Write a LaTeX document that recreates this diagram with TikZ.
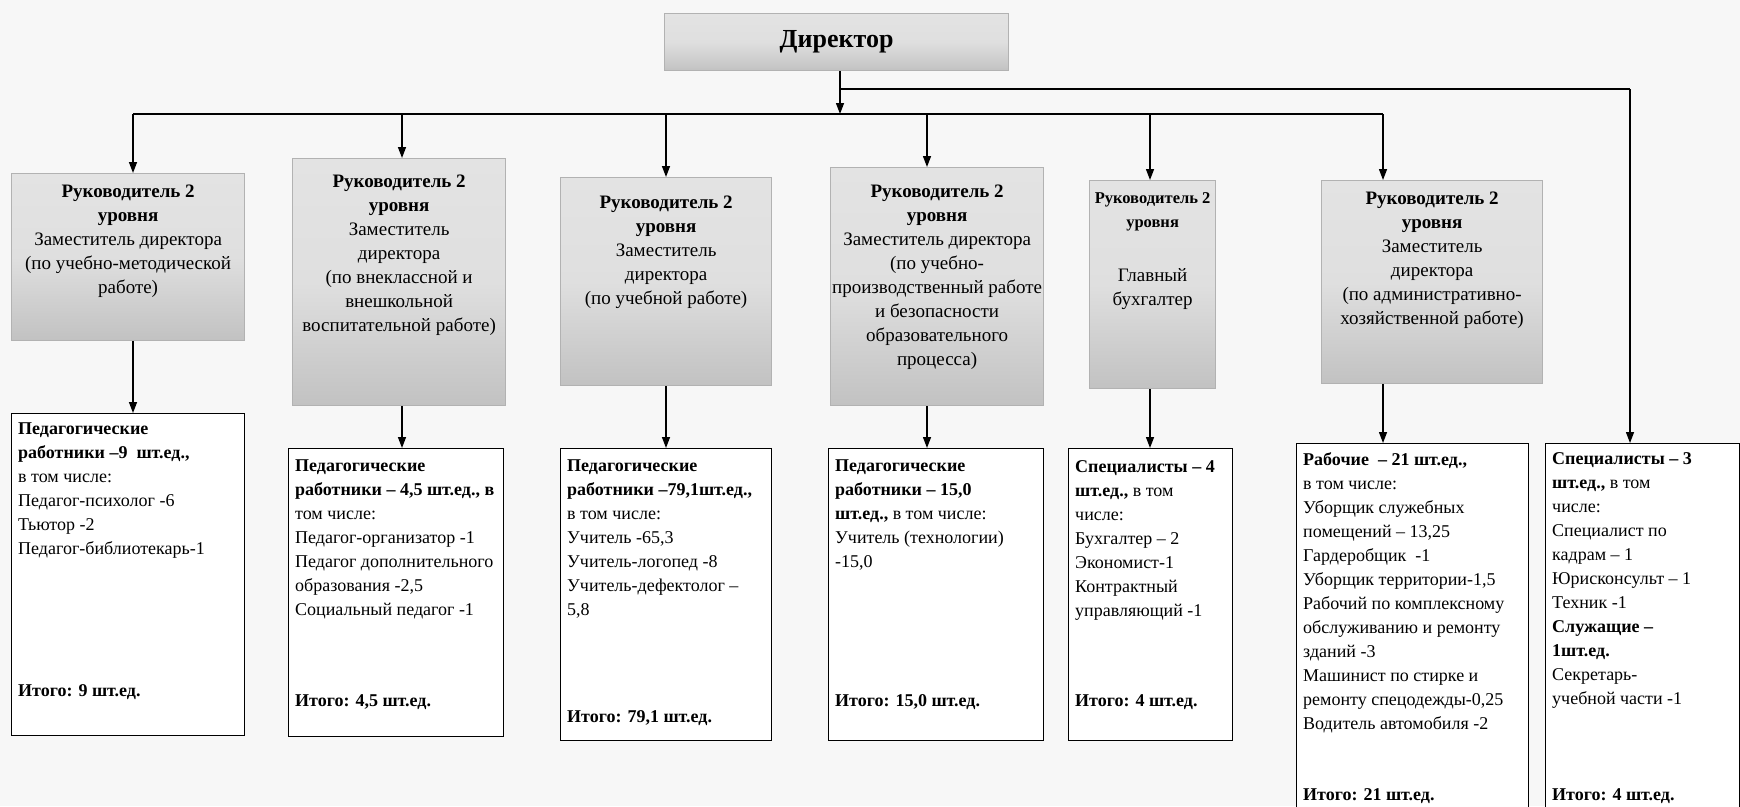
\documentclass[tikz,border=0pt]{standalone}
\usepackage{fontspec}
\setmainfont{Liberation Serif}
\usetikzlibrary{arrows.meta}
\tikzset{
  topbox/.style={draw=gray!60, line width=1.2pt, top color=gray!22, bottom color=gray!48, middle color=gray!25, anchor=north west, inner sep=0pt},
  botbox/.style={draw=black, line width=1.4pt, fill=white, anchor=north west, inner sep=0pt},
  toptext/.style={anchor=north, align=center, inner sep=0pt, font=\fontsize{19}{24}\selectfont},
  bottext/.style={anchor=north west, align=left, inner sep=0pt, font=\fontsize{18}{24}\selectfont},
  sumtext/.style={anchor=west, inner sep=0pt, font=\fontsize{18}{24}\selectfont\bfseries},
  conn/.style={line width=1.4pt, draw=black},
  arr/.style={conn, -{Triangle[length=11pt,width=8pt]}},
}
\begin{document}
\begin{tikzpicture}[x=1pt,y=-1pt]
\useasboundingbox (0,0) rectangle (1740,806);
\fill[gray!6] (0,0) rectangle (1740,806);
% director
\node[topbox, minimum width=344pt, minimum height=57pt] (dir) at (664,13) {};
\node[inner sep=0pt, font=\fontsize{26}{30}\selectfont\bfseries] (dirt) at (dir.center) {Директор};
% top boxes
\node[topbox, minimum width=233pt, minimum height=167pt] (t1) at (11,173) {};
\node[topbox, minimum width=213pt, minimum height=247pt] (t2) at (292,158) {};
\node[topbox, minimum width=211pt, minimum height=208pt] (t3) at (560,177) {};
\node[topbox, minimum width=213pt, minimum height=238pt] (t4) at (830,167) {};
\node[topbox, minimum width=126pt, minimum height=208pt] (t5) at (1089,180) {};
\node[topbox, minimum width=221pt, minimum height=203pt] (t6) at (1321,180) {};
\node[toptext] (t1t) at ([yshift=-12pt]t1.north) {\textbf{Руководитель 2}\\\textbf{уровня}\\Заместитель директора\\(по учебно-методической\\работе)};
\node[toptext] (t2t) at (t2.north |- 0,175) {\textbf{Руководитель 2}\\\textbf{уровня}\\Заместитель\\директора\\(по внеклассной и\\внешкольной\\воспитательной работе)};
\node[toptext] (t3t) at ([yshift=-19pt]t3.north) {\textbf{Руководитель 2}\\\textbf{уровня}\\Заместитель\\директора\\(по учебной работе)};
\node[toptext] (t4t) at (t4.north |- 0,185) {\textbf{Руководитель 2}\\\textbf{уровня}\\Заместитель директора\\(по учебно-\\производственный работе\\и безопасности\\образовательного\\процесса)};
\node[toptext] (t5t) at ([yshift=-12pt]t5.north) {{\fontsize{16.5}{24}\selectfont\bfseries Руководитель 2}\\{\fontsize{16.5}{24}\selectfont\bfseries уровня}\\[30pt]Главный\\бухгалтер};
\node[toptext] (t6t) at ([yshift=-12pt]t6.north) {\textbf{Руководитель 2}\\\textbf{уровня}\\Заместитель\\директора\\(по административно-\\хозяйственной работе)};
% bottom boxes
\node[botbox, minimum width=233pt, minimum height=322pt] (b1) at (11,413) {};
\node[botbox, minimum width=215pt, minimum height=288pt] (b2) at (288,448) {};
\node[botbox, minimum width=211pt, minimum height=292pt] (b3) at (560,448) {};
\node[botbox, minimum width=215pt, minimum height=292pt] (b4) at (828,448) {};
\node[botbox, minimum width=164pt, minimum height=292pt] (b5) at (1068,448) {};
\node[botbox, minimum width=232pt, minimum height=380pt] (b6) at (1296,443) {};
\node[botbox, minimum width=194pt, minimum height=380pt] (b7) at (1545,443) {};
\node[bottext] (b1t) at ([xshift=7pt,yshift=-10pt]b1.north west) {\textbf{Педагогические}\\\textbf{работники –9\ \ шт.ед.,}\\в том числе:\\Педагог-психолог -6\\Тьютор -2\\Педагог-библиотекарь-1};
\node[sumtext] (b1s) at (18,692) {Итого: 9 шт.ед.};
\node[bottext] (b2t) at ([xshift=7pt,yshift=-12pt]b2.north west) {\textbf{Педагогические}\\\textbf{работники – 4,5 шт.ед., в}\\том числе:\\Педагог-организатор -1\\Педагог дополнительного\\образования -2,5\\Социальный педагог -1};
\node[sumtext] (b2s) at (295,702) {Итого: 4,5 шт.ед.};
\node[bottext] (b3t) at ([xshift=7pt,yshift=-12pt]b3.north west) {\textbf{Педагогические}\\\textbf{работники –79,1шт.ед.,}\\в том числе:\\Учитель -65,3\\Учитель-логопед -8\\Учитель-дефектолог –\\5,8};
\node[sumtext] (b3s) at (567,718) {Итого: 79,1 шт.ед.};
\node[bottext] (b4t) at ([xshift=7pt,yshift=-12pt]b4.north west) {\textbf{Педагогические}\\\textbf{работники – 15,0}\\\textbf{шт.ед.,} в том числе:\\Учитель (технологии)\\-15,0};
\node[sumtext] (b4s) at (835,702) {Итого: 15,0 шт.ед.};
\node[bottext] (b5t) at ([xshift=7pt,yshift=-12pt]b5.north west) {\textbf{Специалисты – 4}\\\textbf{шт.ед.,} в том\\числе:\\Бухгалтер – 2\\Экономист-1\\Контрактный\\управляющий -1};
\node[sumtext] (b5s) at (1075,702) {Итого: 4 шт.ед.};
\node[bottext] (b6t) at ([xshift=7pt,yshift=-9pt]b6.north west) {\textbf{Рабочие\ \ – 21 шт.ед.,}\\в том числе:\\Уборщик служебных\\помещений – 13,25\\Гардеробщик\ \ -1\\Уборщик территории-1,5\\Рабочий по комплексному\\обслуживанию и ремонту\\зданий -3\\Машинист по стирке и\\ремонту спецодежды-0,25\\Водитель автомобиля -2};
\node[sumtext] (b6s) at (1303,796) {Итого: 21 шт.ед.};
\node[bottext] (b7t) at ([xshift=7pt,yshift=-9pt]b7.north west) {\textbf{Специалисты – 3}\\\textbf{шт.ед.,} в том\\числе:\\Специалист по\\кадрам – 1\\Юрисконсульт – 1\\Техник -1\\\textbf{Служащие –}\\\textbf{1шт.ед.}\\Секретарь-\\учебной части -1};
\node[sumtext] (b7s) at (1552,796) {Итого: 4 шт.ед.};
% connectors
\coordinate (hub) at (840,114);
\coordinate (up) at (840,89);
\coordinate (upr) at (1630,89);
\coordinate (l1) at (133,114);
\coordinate (l2) at (402,114);
\coordinate (l3) at (666,114);
\coordinate (l4) at (927,114);
\coordinate (l5) at (1150,114);
\coordinate (l6) at (1383,114);
\draw[arr] (dir.south -| hub) -- (hub);
\draw[conn] (up) -- (upr);
\draw[arr] (upr) -- (upr |- b7.north);
\draw[conn] (l1) -- (l6);
\draw[arr] (l1) -- (l1 |- t1.north);
\draw[arr] (l2) -- (l2 |- t2.north);
\draw[arr] (l3) -- (l3 |- t3.north);
\draw[arr] (l4) -- (l4 |- t4.north);
\draw[arr] (l5) -- (l5 |- t5.north);
\draw[arr] (l6) -- (l6 |- t6.north);
\draw[arr] (t1.south -| l1) -- (l1 |- b1.north);
\draw[arr] (t2.south -| l2) -- (l2 |- b2.north);
\draw[arr] (t3.south -| l3) -- (l3 |- b3.north);
\draw[arr] (t4.south -| l4) -- (l4 |- b4.north);
\draw[arr] (t5.south -| l5) -- (l5 |- b5.north);
\draw[arr] (t6.south -| l6) -- (l6 |- b6.north);
\end{tikzpicture}
\end{document}
